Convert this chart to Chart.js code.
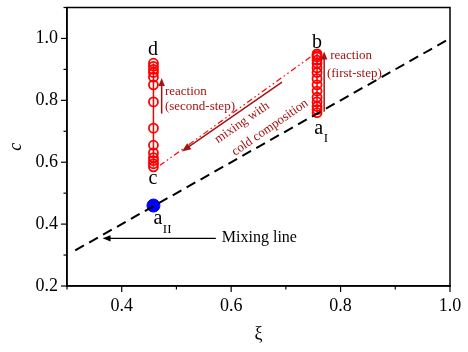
<!DOCTYPE html>
<html>
<head>
<meta charset="utf-8">
<script src="https://cdn.jsdelivr.net/npm/chart.js@4"></script>
<style>
  html, body { margin:0; padding:0; background:#fff; }
  #wrap { width:468px; height:352px; position:relative; }
</style>
</head>
<body>
<div id="wrap"><canvas id="chart"></canvas></div>
<script>
// DATA
// ============================================================
const MIX_LINE_XI = [0.315, 1.0];
const MIX_LINE_C  = [0.315, 1.0];

const STEP1_XI = 0.757;   // a_I -> b (first-step)
const STEP1_C  = [0.76, 0.77, 0.78, 0.795, 0.81, 0.83, 0.85, 0.87, 0.89, 0.905, 0.92, 0.93, 0.94, 0.945, 0.95];

const STEP2_XI = 0.458;   // c -> d (second-step)
const STEP2_C  = [0.585, 0.595, 0.605, 0.615, 0.63, 0.655, 0.71, 0.795, 0.85, 0.875, 0.89, 0.90, 0.91, 0.92];

const MIX_PATH_XI = [0.745, 0.47];   // b -> c, dash-dot
const MIX_PATH_C  = [0.94, 0.59];

const POINT_AII = [0.458, 0.46];

const X_LABELS = [0.4, 0.6, 0.8, 1.0];
const Y_LABELS = [0.2, 0.4, 0.6, 0.8, 1.0];

const SERIF = "'Liberation Serif', 'Times New Roman', serif";
const DARK_RED = '#a31515';

const near = (v, arr) => arr.some(a => Math.abs(a - v) < 1e-6);
const fmt = v => v.toFixed(1);

// OVERLAY: frame, ticks, labels, arrows
// ============================================================
function arrow(ctx, x1, y1, x2, y2, color, lw, head) {
  const ang = Math.atan2(y2 - y1, x2 - x1);
  ctx.save();
  ctx.strokeStyle = color; ctx.fillStyle = color; ctx.lineWidth = lw;
  ctx.beginPath();
  ctx.moveTo(x1, y1);
  ctx.lineTo(x2 - Math.cos(ang) * head * 0.8, y2 - Math.sin(ang) * head * 0.8);
  ctx.stroke();
  ctx.beginPath();
  ctx.moveTo(x2, y2);
  ctx.lineTo(x2 - head * Math.cos(ang) + head * 0.4 * Math.sin(ang), y2 - head * Math.sin(ang) - head * 0.4 * Math.cos(ang));
  ctx.lineTo(x2 - head * Math.cos(ang) - head * 0.4 * Math.sin(ang), y2 - head * Math.sin(ang) + head * 0.4 * Math.cos(ang));
  ctx.closePath();
  ctx.fill();
  ctx.restore();
}

const overlay = {
  id: 'overlay',
  afterDraw(chart) {
    const { ctx, chartArea: a } = chart;
    const sx = chart.scales.x, sy = chart.scales.y;
    const px = v => sx.getPixelForValue(v), py = v => sy.getPixelForValue(v);

    // frame
    ctx.save();
    ctx.strokeStyle = '#000'; ctx.lineWidth = 1.5;
    ctx.strokeRect(a.left, a.top, a.right - a.left, a.bottom - a.top);

    // ticks (major long, minor short), pointing outwards
    ctx.lineWidth = 1.2;
    sx.ticks.forEach(t => {
      const x = px(t.value), len = near(t.value, X_LABELS) ? 6 : 3.5;
      ctx.beginPath(); ctx.moveTo(x, a.bottom); ctx.lineTo(x, a.bottom + len); ctx.stroke();
    });
    sy.ticks.forEach(t => {
      const y = py(t.value), len = near(t.value, Y_LABELS) ? 6 : 3.5;
      ctx.beginPath(); ctx.moveTo(a.left, y); ctx.lineTo(a.left - len, y); ctx.stroke();
    });

    // point letters
    ctx.fillStyle = '#000';
    ctx.textBaseline = 'middle';
    ctx.textAlign = 'center';
    ctx.font = `20px ${SERIF}`;
    ctx.fillText('d', px(0.457), py(0.962));
    ctx.fillText('c', px(0.457), py(0.546));
    ctx.fillText('b', px(0.757), py(0.985));
    ctx.fillText('a', px(0.760), py(0.709));
    ctx.fillText('a', px(0.466), py(0.418));
    ctx.font = `13px ${SERIF}`;
    ctx.textAlign = 'left';
    ctx.fillText('I', px(0.760) + 5, py(0.709) + 10);
    ctx.fillText('II', px(0.466) + 5, py(0.418) + 11);

    // mixing line label
    ctx.font = `16px ${SERIF}`;
    ctx.fillText('Mixing line', px(0.583), py(0.357));
    arrow(ctx, px(0.572), py(0.354), px(0.365), py(0.354), '#000', 1.2, 8);

    // reaction arrows
    arrow(ctx, px(0.473), py(0.757), px(0.473), py(0.872), DARK_RED, 1.5, 8);
    arrow(ctx, px(0.770), py(0.763), px(0.770), py(0.958), DARK_RED, 1.5, 8);
    ctx.fillStyle = DARK_RED;
    ctx.font = `13px ${SERIF}`;
    ctx.fillText('reaction', px(0.479), py(0.827));
    ctx.fillText('(second-step)', px(0.479), py(0.779));
    ctx.fillText('reaction', px(0.781), py(0.946));
    ctx.fillText('(first-step)', px(0.775), py(0.888));

    // mixing arrow and rotated text
    const x1 = px(0.693), y1 = py(0.859), x2 = px(0.51), y2 = py(0.635);
    arrow(ctx, x1, y1, x2, y2, DARK_RED, 1.5, 9);
    const ang = Math.atan2(y1 - y2, x1 - x2);
    ctx.textAlign = 'center';
    [['mixing with', 0.620, 0.728], ['cold composition', 0.671, 0.712]].forEach(([s, xi, c]) => {
      ctx.save();
      ctx.translate(px(xi), py(c));
      ctx.rotate(ang);
      ctx.fillText(s, 0, 0);
      ctx.restore();
    });
    ctx.restore();
  }
};

// CHART
// ============================================================
const redSeries = (xi, cs) => ({
  data: cs.map(c => ({ x: xi, y: c })),
  showLine: true, borderColor: '#ff0000', borderWidth: 1.5,
  pointRadius: 4.5, pointBorderWidth: 1.8, pointBorderColor: '#ff0000',
  pointBackgroundColor: 'rgba(255,255,255,0)'
});

new Chart(document.getElementById('chart'), {
  type: 'scatter',
  data: {
    datasets: [
      { data: MIX_LINE_XI.map((x, i) => ({ x, y: MIX_LINE_C[i] })), showLine: true,
        borderColor: '#000', borderWidth: 2, borderDash: [10, 6], pointRadius: 0 },
      { data: MIX_PATH_XI.map((x, i) => ({ x, y: MIX_PATH_C[i] })), showLine: true,
        borderColor: '#ff0000', borderWidth: 1.2, borderDash: [6, 3, 1.5, 3, 1.5, 3], pointRadius: 0 },
      redSeries(STEP1_XI, STEP1_C),
      redSeries(STEP2_XI, STEP2_C),
      { data: [{ x: POINT_AII[0], y: POINT_AII[1] }], pointRadius: 6.5,
        pointBackgroundColor: '#0000ff', pointBorderColor: '#0000ff' }
    ]
  },
  options: {
    responsive: true, maintainAspectRatio: false, animation: false,
    layout: { padding: { left: 0, top: 4, right: 18, bottom: 0 } },
    plugins: { legend: { display: false }, tooltip: { enabled: false } },
    scales: {
      x: {
        type: 'linear', min: 0.3, max: 1.0,
        afterFit: s => { s.height = 66; s.paddingLeft = 0; s.paddingRight = 0; },
        grid: { drawOnChartArea: false, drawTicks: false },
        border: { color: '#000', width: 1.5 },
        ticks: { stepSize: 0.1, padding: 9, color: '#000', font: { family: SERIF, size: 18 },
                 autoSkip: false, maxRotation: 0,
                 callback: v => near(v, X_LABELS) ? fmt(v) : '' },
        title: { display: true, text: 'ξ', color: '#000', font: { family: SERIF, size: 18 },
                 padding: { top: 7, bottom: 7 } }
      },
      y: {
        type: 'linear', min: 0.2, max: 1.1,
        afterFit: s => { s.width = 67; s.paddingTop = 0; s.paddingBottom = 0; },
        grid: { drawOnChartArea: false, drawTicks: false },
        border: { color: '#000', width: 1.5 },
        ticks: { stepSize: 0.1, padding: 9, color: '#000', font: { family: SERIF, size: 18 },
                 autoSkip: false,
                 callback: v => near(v, Y_LABELS) ? fmt(v) : '' },
        title: { display: true, text: 'c', color: '#000', font: { family: SERIF, size: 18, style: 'italic' },
                 padding: { top: 5, bottom: 5 } }
      }
    }
  },
  plugins: [overlay]
});
</script>
</body>
</html>
